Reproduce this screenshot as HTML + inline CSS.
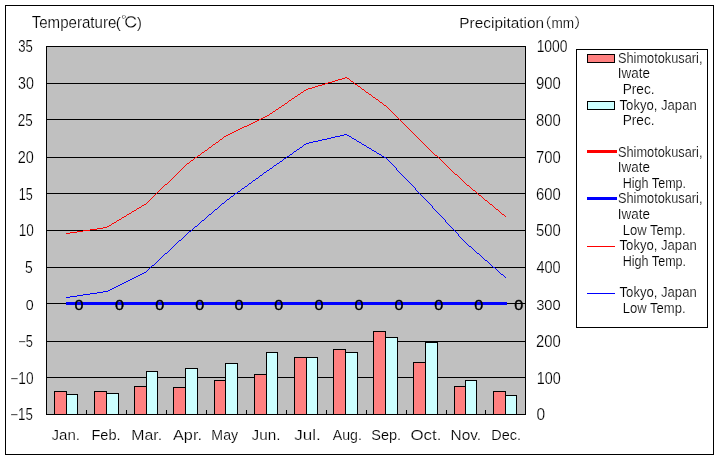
<!DOCTYPE html>
<html lang="en"><head><meta charset="utf-8"><title>Shimotokusari, Iwate vs Tokyo, Japan climate graph</title>
<style>html,body{margin:0;padding:0;background:#fff;}svg{display:block;}text{font-family:'Liberation Sans', 'IPAGothic', 'Noto Sans CJK JP', sans-serif;fill:#000;}.thin text{stroke:#fff;stroke-width:0.18px;paint-order:fill stroke;}.zero text{stroke:#000;stroke-width:0.4px;}</style>
</head><body>
<svg width="720" height="460" viewBox="0 0 720 460">
<rect x="0" y="0" width="720" height="460" fill="#ffffff"/>
<g shape-rendering="crispEdges">
<rect x="5.5" y="5.5" width="708" height="449" fill="#fff" stroke="#000" stroke-width="1"/>
<rect x="46.5" y="46.5" width="479" height="368" fill="#c0c0c0" stroke="none"/>
<line x1="46" y1="83.5" x2="526" y2="83.5" stroke="#000" stroke-width="1"/>
<line x1="46" y1="119.5" x2="526" y2="119.5" stroke="#000" stroke-width="1"/>
<line x1="46" y1="157.5" x2="526" y2="157.5" stroke="#000" stroke-width="1"/>
<line x1="46" y1="193.5" x2="526" y2="193.5" stroke="#000" stroke-width="1"/>
<line x1="46" y1="230.5" x2="526" y2="230.5" stroke="#000" stroke-width="1"/>
<line x1="46" y1="267.5" x2="526" y2="267.5" stroke="#000" stroke-width="1"/>
<line x1="46" y1="303.5" x2="526" y2="303.5" stroke="#000" stroke-width="1"/>
<line x1="46" y1="341.5" x2="526" y2="341.5" stroke="#000" stroke-width="1"/>
<line x1="46" y1="377.5" x2="526" y2="377.5" stroke="#000" stroke-width="1"/>
<rect x="54.5" y="391.5" width="12" height="23" fill="#ff8080" stroke="#000" stroke-width="1"/>
<rect x="66.5" y="394.5" width="11" height="20" fill="#ccffff" stroke="#000" stroke-width="1"/>
<rect x="94.5" y="391.5" width="12" height="23" fill="#ff8080" stroke="#000" stroke-width="1"/>
<rect x="106.5" y="393.5" width="12" height="21" fill="#ccffff" stroke="#000" stroke-width="1"/>
<rect x="134.5" y="386.5" width="12" height="28" fill="#ff8080" stroke="#000" stroke-width="1"/>
<rect x="146.5" y="371.5" width="11" height="43" fill="#ccffff" stroke="#000" stroke-width="1"/>
<rect x="173.5" y="387.5" width="12" height="27" fill="#ff8080" stroke="#000" stroke-width="1"/>
<rect x="185.5" y="368.5" width="12" height="46" fill="#ccffff" stroke="#000" stroke-width="1"/>
<rect x="214.5" y="380.5" width="11" height="34" fill="#ff8080" stroke="#000" stroke-width="1"/>
<rect x="225.5" y="363.5" width="12" height="51" fill="#ccffff" stroke="#000" stroke-width="1"/>
<rect x="254.5" y="374.5" width="12" height="40" fill="#ff8080" stroke="#000" stroke-width="1"/>
<rect x="266.5" y="352.5" width="11" height="62" fill="#ccffff" stroke="#000" stroke-width="1"/>
<rect x="294.5" y="357.5" width="12" height="57" fill="#ff8080" stroke="#000" stroke-width="1"/>
<rect x="306.5" y="357.5" width="11" height="57" fill="#ccffff" stroke="#000" stroke-width="1"/>
<rect x="333.5" y="349.5" width="12" height="65" fill="#ff8080" stroke="#000" stroke-width="1"/>
<rect x="345.5" y="352.5" width="12" height="62" fill="#ccffff" stroke="#000" stroke-width="1"/>
<rect x="373.5" y="331.5" width="12" height="83" fill="#ff8080" stroke="#000" stroke-width="1"/>
<rect x="385.5" y="337.5" width="12" height="77" fill="#ccffff" stroke="#000" stroke-width="1"/>
<rect x="413.5" y="362.5" width="12" height="52" fill="#ff8080" stroke="#000" stroke-width="1"/>
<rect x="425.5" y="342.5" width="12" height="72" fill="#ccffff" stroke="#000" stroke-width="1"/>
<rect x="454.5" y="386.5" width="11" height="28" fill="#ff8080" stroke="#000" stroke-width="1"/>
<rect x="465.5" y="380.5" width="11" height="34" fill="#ccffff" stroke="#000" stroke-width="1"/>
<rect x="493.5" y="391.5" width="12" height="23" fill="#ff8080" stroke="#000" stroke-width="1"/>
<rect x="505.5" y="395.5" width="11" height="19" fill="#ccffff" stroke="#000" stroke-width="1"/>
<rect x="46.5" y="46.5" width="479" height="368" fill="none" stroke="#000" stroke-width="1"/>
<line x1="86.5" y1="410" x2="86.5" y2="415" stroke="#000" stroke-width="1"/>
<line x1="126.5" y1="410" x2="126.5" y2="415" stroke="#000" stroke-width="1"/>
<line x1="166.5" y1="410" x2="166.5" y2="415" stroke="#000" stroke-width="1"/>
<line x1="206.5" y1="410" x2="206.5" y2="415" stroke="#000" stroke-width="1"/>
<line x1="246.5" y1="410" x2="246.5" y2="415" stroke="#000" stroke-width="1"/>
<line x1="286.5" y1="410" x2="286.5" y2="415" stroke="#000" stroke-width="1"/>
<line x1="326.5" y1="410" x2="326.5" y2="415" stroke="#000" stroke-width="1"/>
<line x1="366.5" y1="410" x2="366.5" y2="415" stroke="#000" stroke-width="1"/>
<line x1="406.5" y1="410" x2="406.5" y2="415" stroke="#000" stroke-width="1"/>
<line x1="446.5" y1="410" x2="446.5" y2="415" stroke="#000" stroke-width="1"/>
<line x1="485.5" y1="410" x2="485.5" y2="415" stroke="#000" stroke-width="1"/>
</g>
<g shape-rendering="crispEdges" fill="none">
<polyline stroke="#ff0000" stroke-width="3" points="66,303.5 507,303.5"/>
<polyline stroke="#0000ff" stroke-width="3" points="65.5,303.5 507,303.5"/>
<path stroke="#ff0000" stroke-width="1" d="M345 77.5h2M342 78.5h3M347 78.5h2M338 79.5h4M349 79.5h1M335 80.5h3M350 80.5h1M332 81.5h3M351 81.5h2M328 82.5h4M353 82.5h1M325 83.5h3M354 83.5h1M322 84.5h3M355 84.5h2M318 85.5h4M357 85.5h1M315 86.5h3M358 86.5h2M312 87.5h3M360 87.5h1M308 88.5h4M361 88.5h1M306 89.5h2M362 89.5h2M304 90.5h2M364 90.5h1M303 91.5h1M365 91.5h1M301 92.5h2M366 92.5h2M300 93.5h1M368 93.5h1M298 94.5h2M369 94.5h2M297 95.5h1M371 95.5h1M295 96.5h2M372 96.5h1M294 97.5h1M373 97.5h2M292 98.5h2M375 98.5h1M291 99.5h1M376 99.5h2M289 100.5h2M378 100.5h1M288 101.5h1M379 101.5h1M287 102.5h1M380 102.5h2M285 103.5h2M382 103.5h1M284 104.5h1M383 104.5h1M282 105.5h2M384 105.5h2M281 106.5h1M386 106.5h1M279 107.5h2M387 107.5h1M278 108.5h1M388 108.5h1M276 109.5h2M389 109.5h1M275 110.5h1M390 110.5h1M273 111.5h2M391 111.5h1M272 112.5h1M392 112.5h1M270 113.5h2M393 113.5h1M269 114.5h1M394 114.5h1M267 115.5h2M395 115.5h1M265 116.5h2M396 116.5h1M263 117.5h2M397 117.5h1M261 118.5h2M398 118.5h1M259 119.5h2M399 119.5h1M257 120.5h2M400 120.5h1M255 121.5h2M401 121.5h1M253 122.5h2M402 122.5h1M251 123.5h2M403 123.5h1M249 124.5h2M404 124.5h1M247 125.5h2M405 125.5h1M244 126.5h3M406 126.5h1M242 127.5h2M407 127.5h1M240 128.5h2M408 128.5h1M238 129.5h2M409 129.5h1M236 130.5h2M410 130.5h1M234 131.5h2M411 131.5h1M232 132.5h2M412 132.5h1M230 133.5h2M413 133.5h1M228 134.5h2M414 134.5h1M226 135.5h2M415 135.5h1M224 136.5h2M416 136.5h1M223 137.5h1M417 137.5h1M222 138.5h1M418 138.5h1M220 139.5h2M419 139.5h1M219 140.5h1M420 140.5h1M218 141.5h1M421 141.5h1M216 142.5h2M422 142.5h1M215 143.5h1M423 143.5h1M213 144.5h2M424 144.5h1M212 145.5h1M425 145.5h1M211 146.5h1M426 146.5h1M209 147.5h2M427 147.5h1M208 148.5h1M428 148.5h1M207 149.5h1M429 149.5h1M205 150.5h2M430 150.5h1M204 151.5h1M431 151.5h1M202 152.5h2M432 152.5h1M201 153.5h1M433 153.5h1M200 154.5h1M434 154.5h1M198 155.5h2M435 155.5h2M197 156.5h1M437 156.5h1M195 157.5h2M438 157.5h1M194 158.5h1M439 158.5h1M193 159.5h1M440 159.5h1M191 160.5h2M441 160.5h1M190 161.5h1M442 161.5h1M189 162.5h1M443 162.5h1M187 163.5h2M444 163.5h1M186 164.5h1M445 164.5h1M185 165.5h1M446 165.5h1M184 166.5h1M447 166.5h1M183 167.5h1M448 167.5h1M182 168.5h1M449 168.5h1M181 169.5h1M450 169.5h1M180 170.5h1M451 170.5h1M179 171.5h1M452 171.5h1M178 172.5h1M453 172.5h1M177 173.5h1M454 173.5h1M176 174.5h1M455 174.5h2M175 175.5h1M457 175.5h1M174 176.5h1M458 176.5h1M173 177.5h1M459 177.5h1M172 178.5h1M460 178.5h1M171 179.5h1M461 179.5h1M170 180.5h1M462 180.5h1M169 181.5h1M463 181.5h1M168 182.5h1M464 182.5h1M167 183.5h1M465 183.5h1M165 184.5h2M466 184.5h1M164 185.5h1M467 185.5h2M163 186.5h1M469 186.5h1M162 187.5h1M470 187.5h1M161 188.5h1M471 188.5h1M160 189.5h1M472 189.5h1M159 190.5h1M473 190.5h2M158 191.5h1M475 191.5h1M157 192.5h1M476 192.5h1M156 193.5h1M477 193.5h1M155 194.5h1M478 194.5h1M154 195.5h1M479 195.5h2M153 196.5h1M481 196.5h1M152 197.5h1M482 197.5h1M151 198.5h1M483 198.5h1M150 199.5h1M484 199.5h1M149 200.5h1M485 200.5h2M148 201.5h1M487 201.5h1M147 202.5h1M488 202.5h1M146 203.5h1M489 203.5h1M144 204.5h2M490 204.5h2M142 205.5h2M492 205.5h1M141 206.5h1M493 206.5h1M139 207.5h2M494 207.5h1M137 208.5h2M495 208.5h1M136 209.5h1M496 209.5h2M134 210.5h2M498 210.5h1M132 211.5h2M499 211.5h1M131 212.5h1M500 212.5h1M129 213.5h2M501 213.5h1M127 214.5h2M502 214.5h2M126 215.5h1M504 215.5h1M124 216.5h2M505 216.5h1M122 217.5h2M121 218.5h1M119 219.5h2M117 220.5h2M116 221.5h1M114 222.5h2M112 223.5h2M111 224.5h1M109 225.5h2M107 226.5h2M103 227.5h4M97 228.5h6M90 229.5h7M83 230.5h7M77 231.5h6M70 232.5h7M66 233.5h4"/>
<path stroke="#0000ff" stroke-width="1" d="M344 134.5h3M340 135.5h4M347 135.5h2M335 136.5h5M349 136.5h2M331 137.5h4M351 137.5h1M327 138.5h4M352 138.5h2M322 139.5h5M354 139.5h2M318 140.5h4M356 140.5h1M313 141.5h5M357 141.5h2M309 142.5h4M359 142.5h2M306 143.5h3M361 143.5h1M304 144.5h2M362 144.5h2M303 145.5h1M364 145.5h2M302 146.5h1M366 146.5h1M300 147.5h2M367 147.5h2M299 148.5h1M369 148.5h2M297 149.5h2M371 149.5h1M296 150.5h1M372 150.5h2M294 151.5h2M374 151.5h2M293 152.5h1M376 152.5h1M292 153.5h1M377 153.5h2M290 154.5h2M379 154.5h2M289 155.5h1M381 155.5h1M287 156.5h2M382 156.5h2M286 157.5h1M384 157.5h2M284 158.5h2M386 158.5h1M283 159.5h1M387 159.5h1M282 160.5h1M388 160.5h1M280 161.5h2M389 161.5h1M279 162.5h1M390 162.5h1M277 163.5h2M391 163.5h1M276 164.5h1M392 164.5h1M274 165.5h2M393 165.5h1M273 166.5h1M394 166.5h1M272 167.5h1M395 167.5h1M270 168.5h2M396 168.5h1M269 169.5h1M396 169.5h1M267 170.5h2M397 170.5h1M266 171.5h1M398 171.5h1M264 172.5h2M399 172.5h1M263 173.5h1M400 173.5h1M262 174.5h1M401 174.5h1M260 175.5h2M402 175.5h1M259 176.5h1M403 176.5h1M258 177.5h1M404 177.5h1M256 178.5h2M405 178.5h1M255 179.5h1M406 179.5h1M253 180.5h2M407 180.5h1M252 181.5h1M408 181.5h1M251 182.5h1M409 182.5h1M249 183.5h2M410 183.5h1M248 184.5h1M411 184.5h1M247 185.5h1M412 185.5h1M245 186.5h2M413 186.5h1M244 187.5h1M414 187.5h1M242 188.5h2M415 188.5h1M241 189.5h1M415 189.5h1M240 190.5h1M416 190.5h1M238 191.5h2M417 191.5h1M237 192.5h1M418 192.5h1M235 193.5h2M419 193.5h1M234 194.5h1M420 194.5h1M233 195.5h1M421 195.5h1M231 196.5h2M422 196.5h1M230 197.5h1M423 197.5h1M229 198.5h1M424 198.5h1M227 199.5h2M425 199.5h1M226 200.5h1M426 200.5h1M225 201.5h1M427 201.5h1M224 202.5h1M428 202.5h1M222 203.5h2M429 203.5h1M221 204.5h1M430 204.5h1M220 205.5h1M431 205.5h1M219 206.5h1M432 206.5h1M218 207.5h1M432 207.5h1M217 208.5h1M433 208.5h1M215 209.5h2M434 209.5h1M214 210.5h1M435 210.5h1M213 211.5h1M436 211.5h1M212 212.5h1M437 212.5h1M211 213.5h1M438 213.5h1M209 214.5h2M439 214.5h1M208 215.5h1M440 215.5h1M207 216.5h1M441 216.5h1M206 217.5h1M442 217.5h1M205 218.5h1M443 218.5h1M204 219.5h1M444 219.5h1M202 220.5h2M445 220.5h1M201 221.5h1M445 221.5h1M200 222.5h1M446 222.5h1M199 223.5h1M447 223.5h1M198 224.5h1M448 224.5h1M197 225.5h1M449 225.5h1M195 226.5h2M450 226.5h1M194 227.5h1M451 227.5h1M193 228.5h1M452 228.5h1M192 229.5h1M453 229.5h1M191 230.5h1M454 230.5h1M189 231.5h2M455 231.5h1M188 232.5h1M456 232.5h1M187 233.5h1M457 233.5h1M186 234.5h1M458 234.5h1M185 235.5h1M458 235.5h1M184 236.5h1M459 236.5h1M183 237.5h1M460 237.5h1M182 238.5h1M461 238.5h1M181 239.5h1M462 239.5h1M179 240.5h2M463 240.5h1M178 241.5h1M464 241.5h1M177 242.5h1M465 242.5h1M176 243.5h1M466 243.5h1M175 244.5h1M467 244.5h1M174 245.5h1M468 245.5h1M173 246.5h1M469 246.5h2M172 247.5h1M471 247.5h1M171 248.5h1M472 248.5h1M170 249.5h1M473 249.5h1M169 250.5h1M474 250.5h1M168 251.5h1M475 251.5h1M167 252.5h1M476 252.5h1M165 253.5h2M477 253.5h2M164 254.5h1M479 254.5h1M163 255.5h1M480 255.5h1M162 256.5h1M481 256.5h1M161 257.5h1M482 257.5h1M160 258.5h1M483 258.5h1M159 259.5h1M484 259.5h1M158 260.5h1M485 260.5h2M157 261.5h1M487 261.5h1M156 262.5h1M488 262.5h1M155 263.5h1M489 263.5h1M154 264.5h1M490 264.5h1M152 265.5h2M491 265.5h1M151 266.5h1M492 266.5h1M150 267.5h1M493 267.5h2M149 268.5h1M495 268.5h1M148 269.5h1M496 269.5h1M147 270.5h1M497 270.5h1M146 271.5h1M498 271.5h1M144 272.5h2M499 272.5h1M142 273.5h2M500 273.5h1M140 274.5h2M501 274.5h2M138 275.5h2M503 275.5h1M136 276.5h2M504 276.5h1M134 277.5h2M505 277.5h1M132 278.5h2M130 279.5h2M128 280.5h2M126 281.5h2M124 282.5h2M122 283.5h2M120 284.5h2M118 285.5h2M116 286.5h2M114 287.5h2M112 288.5h2M110 289.5h2M108 290.5h2M103 291.5h5M97 292.5h6M90 293.5h7M83 294.5h7M77 295.5h6M70 296.5h7M66 297.5h4"/>
</g>
<g shape-rendering="crispEdges">
<rect x="576.5" y="49.5" width="131" height="278" fill="#fff" stroke="#000"/>
<rect x="587.5" y="54.5" width="27" height="8" fill="#ff8080" stroke="#000"/>
<rect x="587.5" y="101.5" width="27" height="8" fill="#ccffff" stroke="#000"/>
<line x1="586.5" y1="151.5" x2="616.5" y2="151.5" stroke="#ff0000" stroke-width="3"/>
<line x1="586.5" y1="198.5" x2="616.5" y2="198.5" stroke="#0000ff" stroke-width="3"/>
<line x1="587" y1="246.5" x2="615" y2="246.5" stroke="#ff0000" stroke-width="1"/>
<line x1="587" y1="293.5" x2="615" y2="293.5" stroke="#0000ff" stroke-width="1"/>
</g>
<g class="zero">
<text transform="translate(74.46,309.50) scale(1.0759,0.9524)" font-size="15.0">0</text>
<text transform="translate(115.06,309.50) scale(1.0759,0.9524)" font-size="15.0">0</text>
<text transform="translate(155.16,309.50) scale(1.0759,0.9524)" font-size="15.0">0</text>
<text transform="translate(195.16,309.50) scale(1.0759,0.9524)" font-size="15.0">0</text>
<text transform="translate(234.56,309.50) scale(1.0759,0.9524)" font-size="15.0">0</text>
<text transform="translate(274.36,309.50) scale(1.0759,0.9524)" font-size="15.0">0</text>
<text transform="translate(314.56,309.50) scale(1.0759,0.9524)" font-size="15.0">0</text>
<text transform="translate(354.56,309.50) scale(1.0759,0.9524)" font-size="15.0">0</text>
<text transform="translate(394.56,309.50) scale(1.0759,0.9524)" font-size="15.0">0</text>
<text transform="translate(434.36,309.50) scale(1.0759,0.9524)" font-size="15.0">0</text>
<text transform="translate(474.36,309.50) scale(1.0759,0.9524)" font-size="15.0">0</text>
<text transform="translate(514.36,309.50) scale(1.0759,0.9524)" font-size="15.0">0</text>
</g>
<g class="thin">
<text transform="translate(31.64,27.80) scale(1.0488,1.09)" font-size="14.4">Temperature</text>
<text transform="translate(115.84,27.60) scale(1.0571,1.05)" font-size="14.4">(</text>
<text transform="translate(120.99,28.34) scale(1.2083,1.078)" font-size="14.4">℃</text>
<text transform="translate(137.05,27.60) scale(1.0133,1.05)" font-size="14.4">)</text>
<text transform="translate(459.36,28.30) scale(1.0688,1.05)" font-size="14.4">Precipitation</text>
<text transform="translate(536.67,28.30) scale(1.0667,1)" font-size="14.4">（</text>
<text transform="translate(551.45,28.30) scale(0.9455,1)" font-size="14.4">mm</text>
<text transform="translate(573.60,28.30) scale(1.1200,1)" font-size="14.4">）</text>
<text transform="translate(18.26,52.40) scale(0.8774,1.038)" font-size="15.0">35</text>
<text transform="translate(18.03,89.20) scale(0.9484,1.038)" font-size="15.0">30</text>
<text transform="translate(17.83,126.00) scale(0.8984,1.038)" font-size="15.0">25</text>
<text transform="translate(17.78,162.80) scale(0.9639,1.038)" font-size="15.0">20</text>
<text transform="translate(18.75,199.60) scale(0.8407,1.063)" font-size="15.0">15</text>
<text transform="translate(18.66,236.40) scale(0.9085,1.038)" font-size="15.0">10</text>
<text transform="translate(25.00,273.20) scale(0.9286,1.063)" font-size="15.0">5</text>
<text transform="translate(25.82,310.00) scale(0.9517,1.038)" font-size="15.0">0</text>
<text transform="translate(18.16,346.80) scale(0.8571,1.063)" font-size="15.0">−5</text>
<text transform="translate(10.32,383.60) scale(0.9125,1.038)" font-size="15.0">−10</text>
<text transform="translate(10.33,420.40) scale(0.8875,1.063)" font-size="15.0">−15</text>
<text transform="translate(536.64,52.40) scale(0.9270,1.038)" font-size="15.0">1000</text>
<text transform="translate(535.96,89.20) scale(0.9895,1.038)" font-size="15.0">900</text>
<text transform="translate(535.96,126.00) scale(0.9895,1.038)" font-size="15.0">800</text>
<text transform="translate(535.96,162.80) scale(0.9895,1.038)" font-size="15.0">700</text>
<text transform="translate(535.96,199.60) scale(0.9895,1.038)" font-size="15.0">600</text>
<text transform="translate(535.96,236.40) scale(0.9895,1.038)" font-size="15.0">500</text>
<text transform="translate(536.46,273.20) scale(0.9691,1.038)" font-size="15.0">400</text>
<text transform="translate(536.21,310.00) scale(0.9792,1.038)" font-size="15.0">300</text>
<text transform="translate(535.96,346.80) scale(0.9895,1.038)" font-size="15.0">200</text>
<text transform="translate(536.80,383.60) scale(0.9591,1.038)" font-size="15.0">100</text>
<text transform="translate(536.48,420.40) scale(1.0345,1.038)" font-size="15.0">0</text>
<text transform="translate(51.54,440.40) scale(1.0471,1)" font-size="14.4">Jan.</text>
<text transform="translate(91.43,440.40) scale(1.0133,1)" font-size="14.4">Feb.</text>
<text transform="translate(131.33,440.40) scale(1.0980,1)" font-size="14.4">Mar.</text>
<text transform="translate(173.00,440.40) scale(1.1299,1)" font-size="14.4">Apr.</text>
<text transform="translate(211.37,440.40) scale(0.9825,1)" font-size="14.4">May</text>
<text transform="translate(251.53,440.40) scale(1.0627,1)" font-size="14.4">Jun.</text>
<text transform="translate(294.30,440.40) scale(1.1855,1)" font-size="14.4">Jul.</text>
<text transform="translate(332.80,440.40) scale(0.9841,1)" font-size="14.4">Aug.</text>
<text transform="translate(371.24,440.40) scale(1.0109,1)" font-size="14.4">Sep.</text>
<text transform="translate(410.42,440.40) scale(1.1711,1)" font-size="14.4">Oct.</text>
<text transform="translate(450.56,440.40) scale(1.0692,1)" font-size="14.4">Nov.</text>
<text transform="translate(491.25,440.40) scale(1.0037,1)" font-size="14.4">Dec.</text>
<text transform="translate(617.93,62.70) scale(0.8879,1)" font-size="14.4">Shimotokusari,</text>
<text transform="translate(617.83,78.34) scale(0.9323,1)" font-size="14.4">Iwate</text>
<text transform="translate(622.71,93.98) scale(0.9484,1)" font-size="14.4">Prec.</text>
<text transform="translate(619.57,109.62) scale(0.9099,1)" font-size="14.4">Tokyo, Japan</text>
<text transform="translate(622.71,125.26) scale(0.9484,1)" font-size="14.4">Prec.</text>
<text transform="translate(617.93,156.54) scale(0.8879,1)" font-size="14.4">Shimotokusari,</text>
<text transform="translate(617.83,172.18) scale(0.9323,1)" font-size="14.4">Iwate</text>
<text transform="translate(622.71,187.82) scale(0.8743,1)" font-size="14.4">High Temp.</text>
<text transform="translate(617.93,203.46) scale(0.8879,1)" font-size="14.4">Shimotokusari,</text>
<text transform="translate(617.83,219.10) scale(0.9323,1)" font-size="14.4">Iwate</text>
<text transform="translate(622.67,234.74) scale(0.9064,1)" font-size="14.4">Low Temp.</text>
<text transform="translate(619.57,250.38) scale(0.9099,1)" font-size="14.4">Tokyo, Japan</text>
<text transform="translate(622.71,266.02) scale(0.8743,1)" font-size="14.4">High Temp.</text>
<text transform="translate(619.57,297.30) scale(0.9099,1)" font-size="14.4">Tokyo, Japan</text>
<text transform="translate(622.67,312.94) scale(0.9064,1)" font-size="14.4">Low Temp.</text>
</g>
</svg>
</body></html>
